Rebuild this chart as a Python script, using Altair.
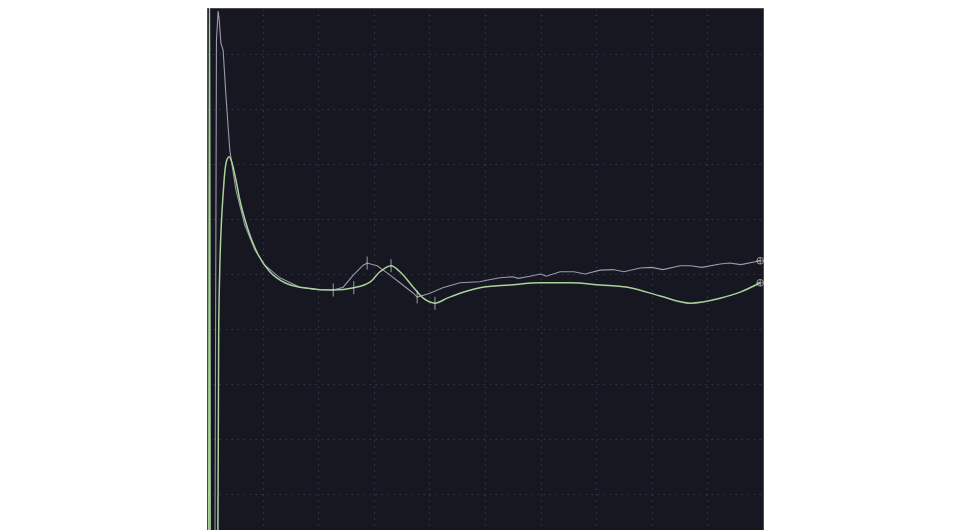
import altair as alt
import pandas as pd

# Trace 1 (grey) — x in grid divisions, y in grid divisions
gray_x = [0.14, 0.17, 0.20, 0.22, 0.25, 0.29, 0.34, 0.41, 0.52, 0.68, 0.86, 1.04, 1.31, 1.67,
          2.03, 2.27, 2.45, 2.63, 2.81, 2.88, 3.06, 3.24, 3.47, 3.71, 3.78, 4.01, 4.24, 4.55,
          4.73, 4.90, 5.10, 5.27, 5.50, 5.60, 5.81, 6.00, 6.10, 6.35, 6.60, 6.80, 7.07, 7.30,
          7.50, 7.79, 8.00, 8.20, 8.51, 8.70, 8.90, 9.23, 9.40, 9.60, 9.95]
gray_y = [-1.0, 9.25, 9.78, 9.62, 9.20, 9.07, 8.25, 7.25, 6.53, 5.89, 5.44, 5.16, 4.93, 4.76,
          4.71, 4.71, 4.76, 4.98, 5.16, 5.20, 5.15, 5.02, 4.84, 4.65, 4.58, 4.65, 4.75, 4.84,
          4.85, 4.86, 4.90, 4.93, 4.95, 4.92, 4.96, 5.00, 4.96, 5.04, 5.04, 5.00, 5.07, 5.08,
          5.04, 5.11, 5.12, 5.08, 5.15, 5.15, 5.12, 5.18, 5.20, 5.17, 5.24]

# Trace 2 (green)
green_x = [0.03, 0.045, 0.06, 0.19, 0.21, 0.23, 0.26, 0.29, 0.32, 0.36, 0.40, 0.45, 0.52, 0.59,
           0.74, 0.92, 1.13, 1.40, 1.67, 2.27, 2.64, 2.93, 3.11, 3.31, 3.47, 3.71, 3.89, 4.10,
           4.32, 4.55, 4.91, 5.45, 5.99, 6.53, 7.07, 7.61, 8.15, 8.69, 9.23, 9.59, 9.95]
green_y = [-1.0, 11.0, -1.0, -1.0, 3.93, 5.10, 5.95, 6.45, 6.85, 7.08, 7.13, 7.02, 6.71, 6.35,
           5.80, 5.35, 5.04, 4.84, 4.76, 4.71, 4.75, 4.85, 5.04, 5.15, 5.04, 4.76, 4.56, 4.47,
           4.56, 4.65, 4.75, 4.80, 4.84, 4.84, 4.80, 4.75, 4.60, 4.47, 4.56, 4.67, 4.84]

# cursor markers
gray_mark_x = [2.27, 2.88, 3.78]
gray_mark_y = [4.71, 5.20, 4.58]
green_mark_x = [2.64, 3.31, 4.10]
green_mark_y = [4.75, 5.15, 4.47]

# end-of-trace markers
end_x = [9.95, 9.95]
end_y = [5.24, 4.84]

GRAY = "#9a9aac"
GREEN = "#a9d39a"
BG = "#161721"

gray_df = pd.DataFrame({"x": gray_x, "y": gray_y, "i": range(len(gray_x))})
green_df = pd.DataFrame({"x": green_x, "y": green_y, "i": range(len(green_x))})
marks_df = pd.DataFrame({"x": gray_mark_x + green_mark_x, "y": gray_mark_y + green_mark_y})
end_df = pd.DataFrame({"x": end_x, "y": end_y})

xs = alt.Scale(domain=[0, 10], nice=False, zero=False)
ys = alt.Scale(domain=[0.345, 9.836], nice=False, zero=False)
ax = alt.Axis(labels=False, ticks=False, domain=False, grid=True, values=list(range(1, 10)),
              gridColor="#353748", gridDash=[1.5, 4.5], gridWidth=1.2, title=None)

X = alt.X("x:Q", scale=xs, axis=ax)
Y = alt.Y("y:Q", scale=ys, axis=ax)

gray_line = alt.Chart(gray_df).mark_line(clip=True, color=GRAY, strokeWidth=1.1).encode(
    x=X, y=Y, order="i:Q")
green_line = alt.Chart(green_df).mark_line(clip=True, color=GREEN, strokeWidth=1.5,
                                           interpolate="monotone").encode(
    x=X, y=Y, order="i:Q")
ticks = alt.Chart(marks_df).mark_tick(orient="vertical", color="#d4d4d8", size=13,
                                      thickness=1).encode(x=X, y=Y)
end_circ = alt.Chart(end_df).mark_point(shape="circle", filled=False, color="#c8c8cc",
                                        size=45, strokeWidth=1).encode(x=X, y=Y)
end_cross = alt.Chart(end_df).mark_point(shape="M-1,0L1,0M0,-1L0,1", filled=False,
                                         color="#c8c8cc", size=45, strokeWidth=1).encode(x=X, y=Y)

chart = alt.layer(gray_line, green_line, ticks, end_circ, end_cross).properties(
    width=556, height=522,
    autosize=alt.AutoSizeParams(type="none"),
    padding={"left": 199, "top": 0, "right": 10, "bottom": 0},
    background="white",
).configure_view(fill=BG, stroke="#4a4b56", strokeWidth=1)

chart.save("out.html", embed_options={"renderer": "svg", "actions": False})
